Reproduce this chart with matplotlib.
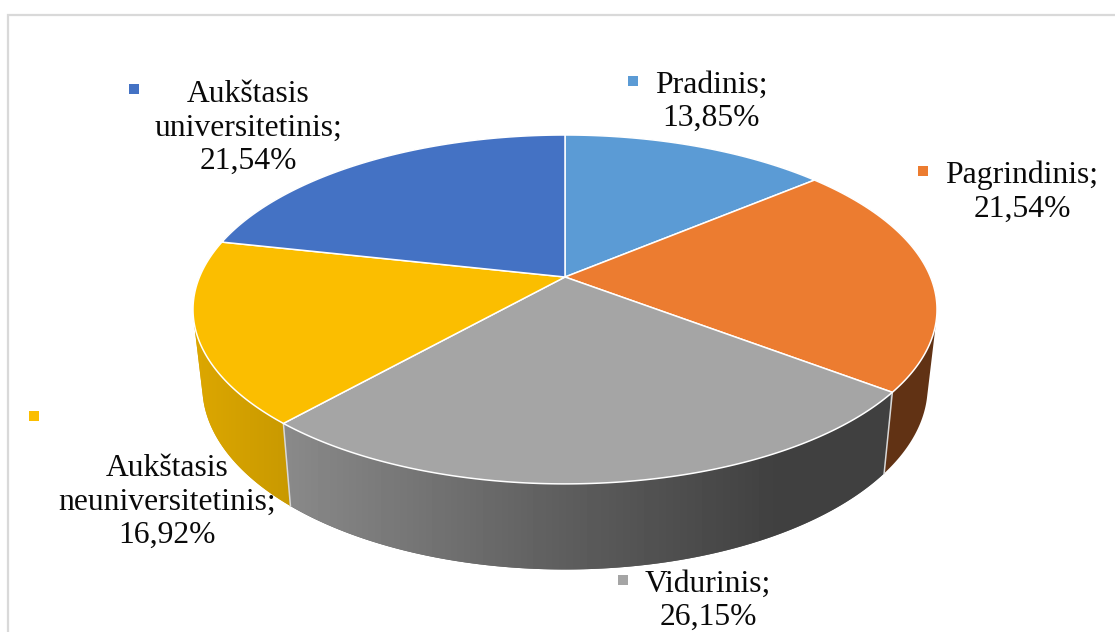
import numpy as np
import matplotlib
matplotlib.use('Agg')
import matplotlib.pyplot as plt
from matplotlib.patches import Polygon

names = ['Pradinis;', 'Pagrindinis;', 'Vidurinis;', 'Aukštasis\nneuniversitetinis;', 'Aukštasis\nuniversitetinis;']
values = [13.85, 21.54, 26.15, 16.92, 21.54]
colors = ['#5B9BD5', '#EC7C30', '#A5A5A5', '#FBBE00', '#4472C4']
wall_colors = ['#386591', '#613214', '#5f5f5f', '#d2a000', '#2b4a80']

# label placement: text centre, key square centre
label_xy = [(711, 102), (1022, 192), (708, 601), (167, 502), (248, 128)]
key_xy = [(632.5, 80.5), (922.5, 170.5), (622.5, 579.5), (33.5, 415.5), (133.5, 88.5)]

CX, CY = 565, 277


def rim(theta):
    # perspective projection of the top circle, theta clockwise from 12 o'clock
    k = 0.186
    X, Y = np.sin(theta), np.cos(theta)
    w = 1 + k * Y
    return CX + 365.5 * X / w, CY - 168.4 * Y / w


def lower(x, y):
    # same circle at the bottom of the disc
    return CX + 0.975 * (x - CX), 473 + 1.05 * (y - 392)


def hull(pts):
    pts = sorted(set(map(tuple, np.round(pts, 3))))
    def half(seq):
        out = []
        for p in seq:
            while len(out) > 1 and ((out[-1][0] - out[-2][0]) * (p[1] - out[-2][1])
                                    - (out[-1][1] - out[-2][1]) * (p[0] - out[-2][0])) <= 0:
                out.pop()
            out.append(p)
        return out[:-1]
    return np.array(half(pts) + half(pts[::-1]))


fig = plt.figure(figsize=(11.15, 6.32), dpi=100)
ax = fig.add_axes([0, 0, 1, 1])
ax.set_xlim(0, 1115)
ax.set_ylim(632, 0)
ax.axis('off')

# chart frame, only left and top fall inside the image
ax.plot([8, 8, 1115], [632, 15, 15], color='#d9d9d9', lw=1.6, solid_joinstyle='miter')

edges = np.radians(np.cumsum([0] + values) * 3.6)
arcs = [np.linspace(edges[i], edges[i + 1], 200) for i in range(len(values))]

# side walls, back ones first so the front slice covers them
for i in [4, 0, 1, 3, 2]:
    x, y = rim(arcs[i])
    xb, yb = lower(x, y)
    shape = hull(np.column_stack([np.r_[x, xb], np.r_[y, yb]]))
    patch = Polygon(shape, closed=True, facecolor=wall_colors[i], edgecolor='none', zorder=2 + i * 0.01)
    ax.add_patch(patch)
    if i == 2:
        grad = np.interp(np.arange(284, 890), [284, 560, 780, 890], [0.54, 0.37, 0.25, 0.25])
        im = ax.imshow(grad[None, :], extent=(284, 890, 600, 380), cmap='gray', vmin=0, vmax=1,
                       aspect='auto', zorder=2.5)
        im.set_clip_path(patch)
    if i == 3:
        rgb = np.array([[[0.865, 0.655, 0.0], [0.785, 0.60, 0.0]]])
        im = ax.imshow(rgb, extent=(147, 340, 520, 320), aspect='auto', interpolation='bilinear', zorder=2.1)
        im.set_clip_path(patch)
ax.set_xlim(0, 1115)
ax.set_ylim(632, 0)

# edges between the visible walls
for a in (edges[2], edges[3]):
    xt, yt = rim(a)
    xb, yb = lower(xt, yt)
    ax.plot([xt, xb], [yt, yb], color='#d8d8d8', lw=1.1, zorder=3)

# top face
for i, arc in enumerate(arcs):
    x, y = rim(arc)
    ax.add_patch(Polygon(np.column_stack([np.r_[CX, x], np.r_[CY, y]]), closed=True,
                         facecolor=colors[i], edgecolor='white', lw=1.1, joinstyle='round', zorder=4))

# data labels
for i in range(len(values)):
    txt = names[i] + '\n' + f'{values[i]:.2f}'.replace('.', ',') + '%'
    ax.text(label_xy[i][0], label_xy[i][1], txt, ha='center', va='center', multialignment='center',
            family='Liberation Serif', fontsize=22.8, color='#0a0a0a', linespacing=1.2, zorder=6)
    ax.plot(*key_xy[i], marker='s', ms=7.9, mew=0, color=colors[i], zorder=6)

fig.savefig('out.png', dpi=100)
